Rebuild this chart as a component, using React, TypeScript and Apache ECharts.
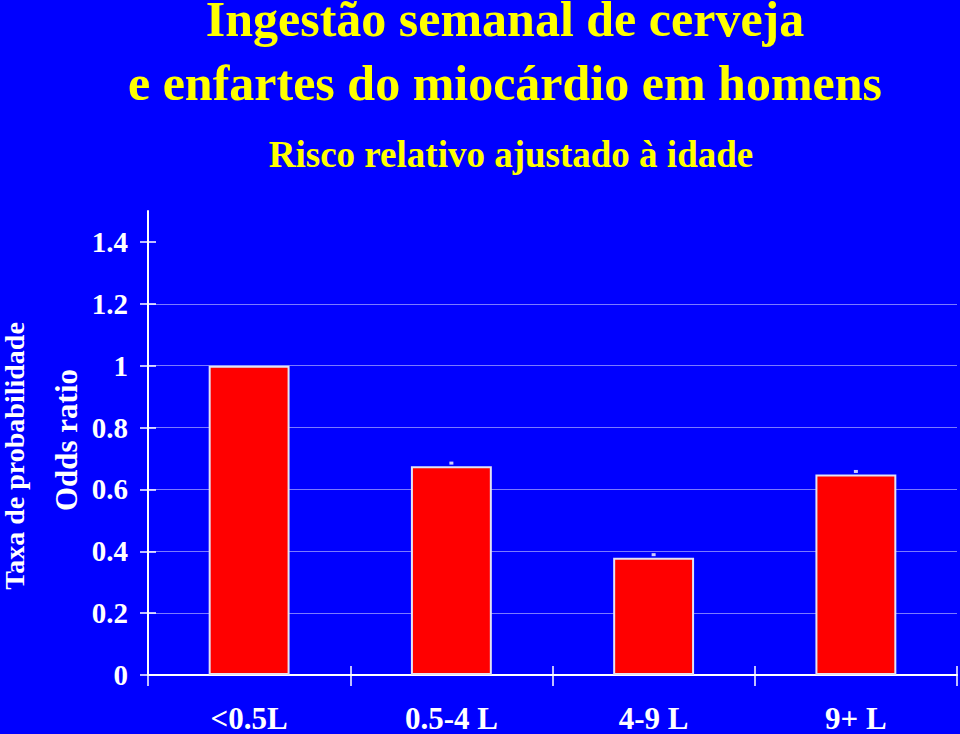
import React, { useEffect, useRef } from "react";
import * as echarts from "echarts";

const categories = ["<0.5L", "0.5-4 L", "4-9 L", "9+ L"];
const oddsRatios = [1.0, 0.675, 0.379, 0.648];
const errorUpper = [null, 0.685, 0.389, 0.658];
const yTicks = [0, 0.2, 0.4, 0.6, 0.8, 1.0, 1.2, 1.4];
const yMax = 1.5;

const titleLine1 = "Ingestão semanal de cerveja";
const titleLine2 = "e enfartes do miocárdio em homens";
const subtitle = "Risco relativo ajustado à idade";
const outerAxisName = "Taxa de probabilidade";
const innerAxisName = "Odds ratio";

const SERIF = "'Liberation Serif', 'Times New Roman', serif";

export default function App() {
  const ref = useRef<HTMLDivElement>(null);
  useEffect(() => {
    if (!ref.current) return;
    const chart = echarts.init(ref.current, null, { renderer: "svg" });
    const fmt = (v: number) => String(Math.round(v * 10) / 10);
    chart.setOption({
      animation: false,
      backgroundColor: "#0000ff",
      grid: { left: 148, right: 3, top: 211, bottom: 58 },
      graphic: [
        {
          type: "text",
          x: 505,
          y: 19,
          style: {
            text: titleLine1,
            fill: "#ffff00",
            font: `bold 50px ${SERIF}`,
            textAlign: "center",
            textVerticalAlign: "middle",
          },
        },
        {
          type: "text",
          x: 505,
          y: 83,
          style: {
            text: titleLine2,
            fill: "#ffff00",
            font: `bold 50px ${SERIF}`,
            textAlign: "center",
            textVerticalAlign: "middle",
          },
        },
        {
          type: "text",
          x: 511,
          y: 154,
          style: {
            text: subtitle,
            fill: "#ffff00",
            font: `bold 37px ${SERIF}`,
            textAlign: "center",
            textVerticalAlign: "middle",
          },
        },
        {
          type: "text",
          x: 14,
          y: 456,
          rotation: Math.PI / 2,
          style: {
            text: outerAxisName,
            fill: "#ffffff",
            font: `bold 28px ${SERIF}`,
            textAlign: "center",
            textVerticalAlign: "middle",
          },
        },
        {
          type: "text",
          x: 66,
          y: 440,
          rotation: Math.PI / 2,
          style: {
            text: innerAxisName,
            fill: "#ffffff",
            font: `bold 31px ${SERIF}`,
            textAlign: "center",
            textVerticalAlign: "middle",
          },
        },
      ],
      xAxis: [
        {
          type: "category",
          data: categories,
          position: "bottom",
          axisLine: { show: true, lineStyle: { color: "#ffffff", width: 2 } },
          axisTick: { show: true, inside: false, length: 11, lineStyle: { color: "#ffffff", width: 1.5 } },
          axisLabel: {
            color: "#ffffff",
            fontFamily: SERIF,
            fontWeight: "bold",
            fontSize: 31,
            margin: 28,
          },
          splitLine: { show: false },
        },
        {
          type: "category",
          data: categories,
          position: "bottom",
          axisLine: { show: false },
          axisTick: { show: true, inside: true, length: 9, lineStyle: { color: "#ffffff", width: 1.5 } },
          axisLabel: { show: false },
          splitLine: { show: false },
        },
      ],
      yAxis: [
        {
          type: "value",
          min: 0,
          max: yMax,
          position: "left",
          axisLine: { show: true, lineStyle: { color: "#ffffff", width: 2 } },
          axisTick: {
            show: true,
            inside: false,
            length: 8,
            customValues: yTicks,
            lineStyle: { color: "#ffffff", width: 1.5 },
          },
          axisLabel: {
            color: "#ffffff",
            fontFamily: SERIF,
            fontWeight: "bold",
            fontSize: 29,
            margin: 20,
            customValues: yTicks,
            formatter: fmt,
          },
          splitLine: {
            show: true,
            showMaxLine: false,
            showMinLine: false,
            lineStyle: { color: "#7a7aff", width: 1 },
          },
        },
        {
          type: "value",
          min: 0,
          max: yMax,
          position: "left",
          axisLine: { show: false },
          axisTick: {
            show: true,
            inside: true,
            length: 8,
            customValues: yTicks,
            lineStyle: { color: "#ffffff", width: 1.5 },
          },
          axisLabel: { show: false, customValues: yTicks },
          splitLine: { show: false },
        },
      ],
      series: [
        {
          type: "bar",
          xAxisIndex: 0,
          yAxisIndex: 0,
          data: oddsRatios,
          barWidth: "40%",
          itemStyle: { color: "#ff0000", borderColor: "#e2e2f4", borderWidth: 2 },
        },
        {
          type: "scatter",
          xAxisIndex: 0,
          yAxisIndex: 0,
          data: errorUpper,
          symbol: "rect",
          symbolSize: [4, 3],
          itemStyle: { color: "#ffffff" },
          z: 3,
        },
      ],
    });
    return () => chart.dispose();
  }, []);
  return (
    <div
      ref={ref}
      style={{ position: "fixed", left: 0, top: 0, width: 960, height: 734 }}
    />
  );
}
